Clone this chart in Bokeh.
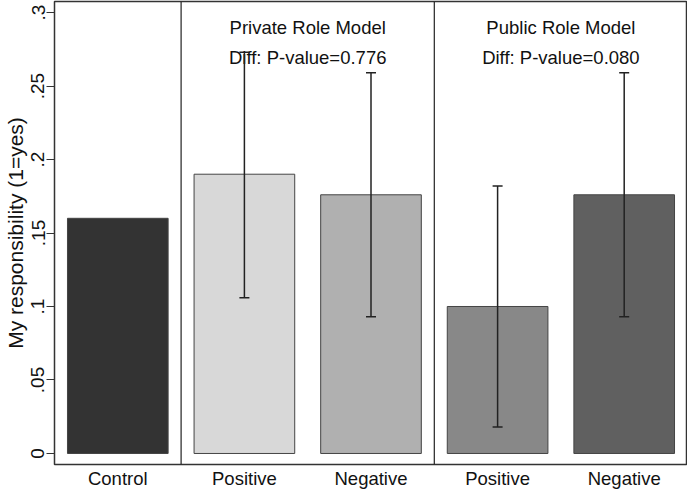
from bokeh.plotting import figure
from bokeh.models import ColumnDataSource, Span, Whisker, FixedTicker, TeeHead
from bokeh.embed import file_html
from bokeh.resources import INLINE
from bokeh.core.properties import value

categories = ["Control", "Positive", "Negative", "Positive", "Negative"]
means = [0.160, 0.190, 0.176, 0.100, 0.176]
ci_low = [None, 0.106, 0.093, 0.018, 0.093]
ci_high = [None, 0.273, 0.259, 0.182, 0.259]
colors = ["#333333", "#d8d8d8", "#b0b0b0", "#888888", "#606060"]
group_titles = ["Private Role Model", "Public Role Model"]
group_pvalues = ["Diff: P-value=0.776", "Diff: P-value=0.080"]
y_ticks = [0, 0.05, 0.1, 0.15, 0.2, 0.25, 0.3]
y_tick_labels = ["0", ".05", ".1", ".15", ".2", ".25", ".3"]

FONT = "Liberation Sans"
xs = list(range(1, len(categories) + 1))

p = figure(width=687, height=491, output_backend="svg", toolbar_location=None,
           x_range=(0.5, 5.5), y_range=(-0.0075, 0.3075),
           min_border_left=48, min_border_right=0, min_border_top=1, min_border_bottom=0)
p.grid.visible = False
p.outline_line_color = "#333333"
p.outline_line_width = 1.5
p.background_fill_color = "white"
p.border_fill_color = "white"

src = ColumnDataSource(dict(x=xs, top=means, color=colors))
p.vbar(x="x", top="top", bottom=0, width=0.795, fill_color="color",
       line_color="#444444", line_width=1, source=src)

ex = [x for x, lo in zip(xs, ci_low) if lo is not None]
el = [lo for lo in ci_low if lo is not None]
eh = [hi for hi in ci_high if hi is not None]
esrc = ColumnDataSource(dict(x=ex, lower=el, upper=eh))
p.add_layout(Whisker(base="x", lower="lower", upper="upper", source=esrc, level="overlay",
                     line_color="#222222", line_width=1.5,
                     upper_head=TeeHead(size=10, line_color="#222222", line_width=1.5),
                     lower_head=TeeHead(size=10, line_color="#222222", line_width=1.5)))

for xv in [1.5, 3.5]:
    p.add_layout(Span(location=xv, dimension="height", line_color="#222222", line_width=1.2))

for gx, t, pv in zip([2.5, 4.5], group_titles, group_pvalues):
    p.text(x=[gx], y=[0.2898], text=[t], text_align="center", text_baseline="middle",
           text_font=value(FONT), text_font_size="18.5px", text_color="#111111")
    p.text(x=[gx], y=[0.2695], text=[pv], text_align="center", text_baseline="middle",
           text_font=value(FONT), text_font_size="18.5px", text_color="#111111")

p.yaxis.ticker = FixedTicker(ticks=y_ticks)
p.yaxis.major_label_overrides = {t: l for t, l in zip(y_ticks, y_tick_labels)}
p.yaxis.major_label_orientation = "vertical"
p.yaxis.axis_line_color = None
p.yaxis.major_tick_out = 8
p.yaxis.major_tick_in = 0
p.yaxis.major_tick_line_color = "#333333"
p.yaxis.minor_tick_line_color = None
p.yaxis.major_label_text_font = FONT
p.yaxis.major_label_text_font_size = "19px"
p.yaxis.major_label_text_color = "#111111"
p.yaxis.major_label_standoff = 2
p.yaxis.axis_label = "My responsibility (1=yes)"
p.yaxis.axis_label_text_font = FONT
p.yaxis.axis_label_text_font_size = "21px"
p.yaxis.axis_label_text_font_style = "normal"
p.yaxis.axis_label_text_color = "#111111"
p.yaxis.axis_label_standoff = 2

p.xaxis.ticker = FixedTicker(ticks=xs)
p.xaxis.major_label_overrides = {x: c for x, c in zip(xs, categories)}
p.xaxis.axis_line_color = None
p.xaxis.major_tick_line_color = None
p.xaxis.major_tick_out = 0
p.xaxis.major_tick_in = 0
p.xaxis.minor_tick_line_color = None
p.xaxis.major_label_text_font = FONT
p.xaxis.major_label_text_font_size = "18.5px"
p.xaxis.major_label_text_color = "#111111"
p.xaxis.major_label_standoff = 3

open("out.html", "w").write(file_html(p, INLINE))
